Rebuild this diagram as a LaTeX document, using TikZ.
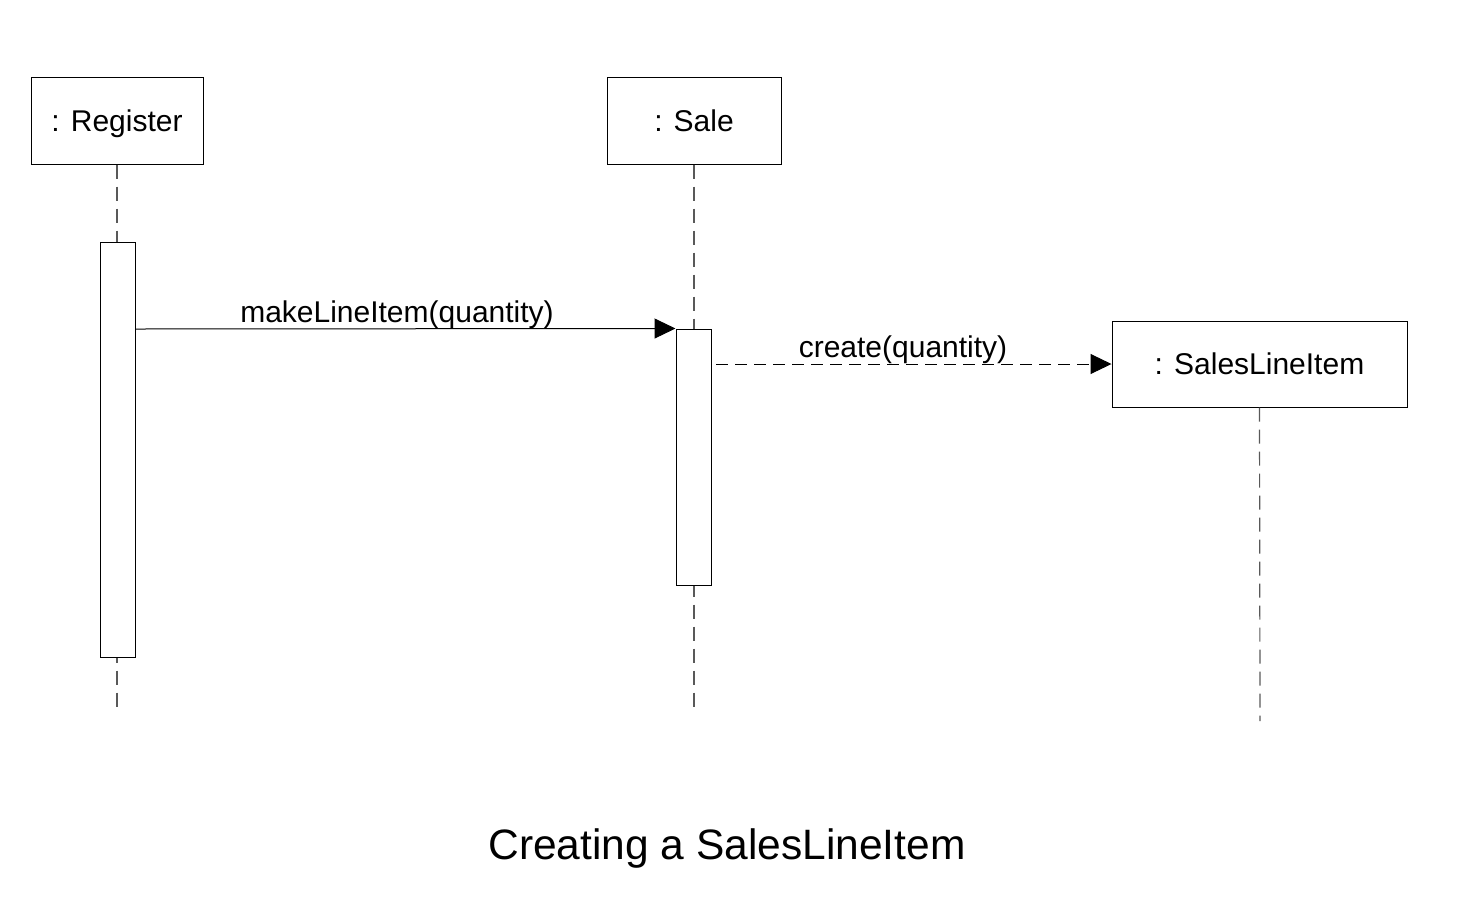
\documentclass[tikz,border=0pt]{standalone}
\usepackage{fontspec}
\setmainfont{Liberation Sans}
\usetikzlibrary{arrows.meta}
\begin{document}
\begin{tikzpicture}[x=1pt,y=-1pt,
  obj/.style={draw,line width=1pt,fill=white,inner sep=0pt,text height=21pt,text depth=0pt,font=\fontsize{30}{34}\selectfont},
  act/.style={draw,line width=1pt,fill=white,inner sep=0pt},
  life/.style={draw=black!65,line width=1.2pt,dash pattern=on 14pt off 8pt},
  msg/.style={line width=1pt,-{Triangle[length=21pt,width=20pt]}},
  lbl/.style={font=\fontsize{30}{34}\selectfont,inner sep=0pt,anchor=base}]
\useasboundingbox (0,0) rectangle (1480,898);
% lifelines
\coordinate (regEnd) at (117,714);
\coordinate (saleEnd) at (694,714);
\coordinate (sliEnd) at (1260,721);
\node[obj,minimum width=172pt,minimum height=87pt] (reg) at (117,120.5) {: Register};
\node[obj,minimum width=174pt,minimum height=87pt] (sale) at (694,120.5) {: Sale};
\node[obj,minimum width=295pt,minimum height=86pt] (sli) at (1259.5,364) {: SalesLineItem};
\draw[life] (reg.south) -- (regEnd);
\draw[life] (sale.south) -- (saleEnd);
\draw[life] (sli.south) -- (sliEnd);
% activations
\node[act,minimum width=35pt,minimum height=415pt] (regAct) at (117.5,449.5) {};
\node[act,minimum width=35pt,minimum height=256pt] (saleAct) at (693.5,457) {};
% messages
\draw[msg] (regAct.east |- 0,329) -- (saleAct.north west);
\node[lbl] (m1) at (397,322) {makeLineItem(quantity)};
\coordinate (c2) at (716,364);
\draw[msg,dash pattern=on 12pt off 7pt] (c2) -- (sli.west);
\node[lbl] (m2) at (903,357) {create(quantity)};
% caption
\node[font=\fontsize{42.5}{48}\selectfont,inner sep=0pt,anchor=base] (cap) at (727,859) {Creating a SalesLineItem};
\end{tikzpicture}
\end{document}
